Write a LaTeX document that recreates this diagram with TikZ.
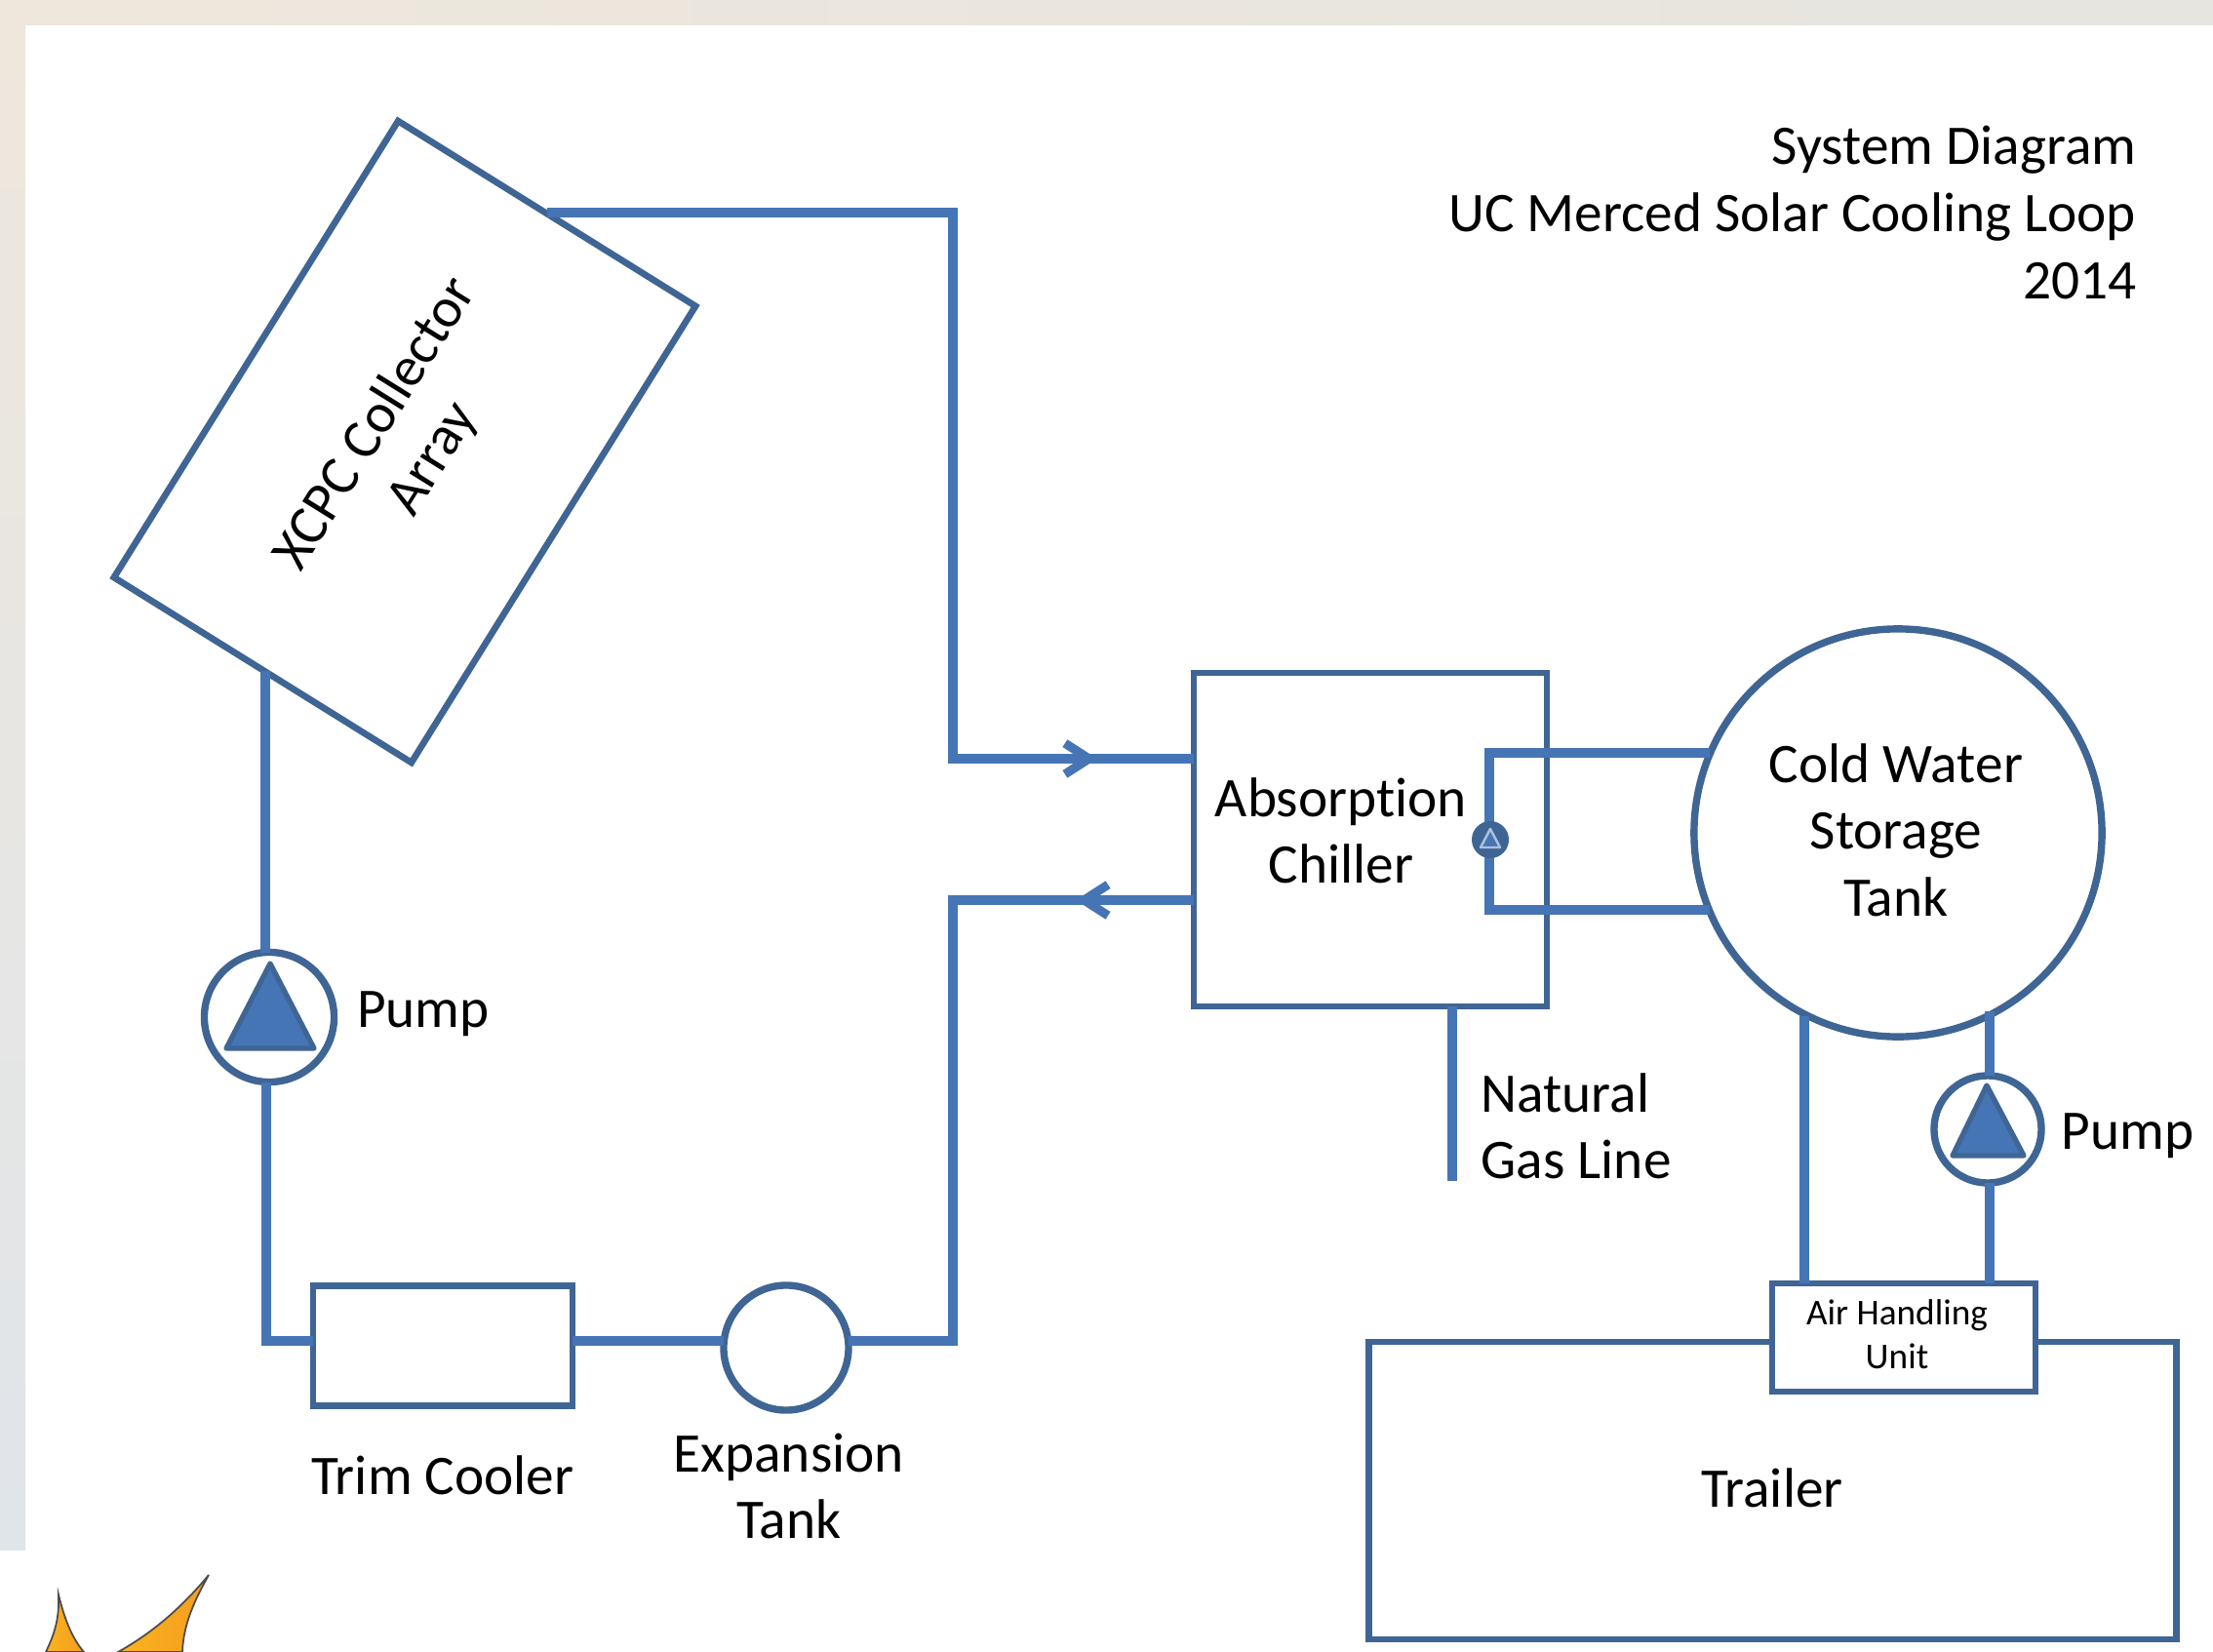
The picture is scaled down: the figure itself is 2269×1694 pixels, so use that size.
\documentclass[tikz,border=0pt]{standalone}
\usepackage{fontspec}
\setmainfont{Carlito}[Ligatures=NoCommon]
\usetikzlibrary{positioning,arrows.meta}
\definecolor{pipeblue}{HTML}{4675B5}
\definecolor{boxblue}{HTML}{3F6594}
\definecolor{stripbeige}{HTML}{EEE7DC}
\definecolor{stripgrey}{HTML}{E0E5EA}
\definecolor{stripright}{HTML}{E6E5E0}
\definecolor{staryellow}{HTML}{FAB41E}
\definecolor{starorange}{HTML}{F59C20}
\begin{document}
\begin{tikzpicture}[
  x=0.01cm, y=-0.01cm,
  vbox/.style={rectangle, draw=boxblue, line width=1.9pt, outer sep=0pt, inner sep=0pt, align=center, font=\fontsize{16.3}{19.5}\selectfont},
  vcirc/.style={circle, draw=boxblue, line width=2.1pt, outer sep=0pt, inner sep=0pt},
  vtext/.style={inner sep=0pt, font=\fontsize{16.3}{19.5}\selectfont},
  pipe/.style={draw=pipeblue, line width=2.6pt},
  flow/.style={pipe, -{Straight Barb[length=7pt, width=9pt]}},
  ptri/.style={draw=boxblue, fill=pipeblue, line width=1.5pt, line join=round},
  star/.style={draw=black!70, line width=0.5pt, left color=staryellow, right color=starorange}
]
  \useasboundingbox (0,0) rectangle (2269,1694);
  \clip (0,0) rectangle (2269,1694);
  \shade[left color=stripbeige, right color=stripright] (0,0) rectangle (2269,26);
  \shade[top color=stripbeige, bottom color=stripgrey] (0,26) rectangle (26,1589);
  \filldraw[star] (47,1694) .. controls (56,1675) and (61,1660) .. (60,1635)
    .. controls (66,1660) and (74,1680) .. (86,1694) -- cycle;
  \filldraw[star] (121,1694) .. controls (155,1675) and (185,1650) .. (214,1615)
    .. controls (200,1640) and (188,1665) .. (187,1694) -- cycle;

  % collector and chiller side
  \node[vbox, rotate=58.1, minimum width=5.51cm, minimum height=3.59cm] (collector) at (415,453) {XCPC Collector\\Array};
  \node[vbox, minimum width=3.62cm, minimum height=3.42cm] (chiller) at (1405,861) {};
  \node[vtext, align=center] (chillertext) at (1375,852) {Absorption\\Chiller};
  \node[vcirc, minimum size=4.18cm] (tank) at (1946,854) {};
  \node[vtext, align=center] (tanktext) at (1944,851) {Cold Water\\Storage\\Tank};

  % left loop
  \node[vcirc, minimum size=1.33cm] (pump1) at (276,1043) {};
  \draw[ptri] (277,988) -- (322,1075) -- (232,1075) -- cycle;
  \node[vbox, minimum width=2.66cm, minimum height=1.23cm] (trim) at (454,1380) {};
  \node[vcirc, minimum size=1.28cm] (expansion) at (806,1382) {};
  \coordinate (hotout) at (561,218);
  \coordinate (hotbend) at (977,218);
  \coordinate (hotin) at (977,778);
  \coordinate (hotarrow) at (1125,778);
  \coordinate (chillerin) at (1224,778);
  \coordinate (chillerout) at (1224,923);
  \coordinate (backarrow) at (1103,923);
  \coordinate (backbend) at (977,923);
  \coordinate (backlow) at (977,1375);
  \coordinate (expright) at (870,1375);
  \coordinate (expleft) at (742,1375);
  \coordinate (trimright) at (587,1375);
  \coordinate (trimleft) at (321,1375);
  \coordinate (lowbend) at (273,1375);
  \coordinate (collin) at (272,688);
  \draw[pipe] (hotout) -- (hotbend) -- (hotin) -- (chillerin);
  \draw[flow] (hotin) -- (hotarrow);
  \draw[pipe] (chillerout) -- (backbend) -- (backlow) -- (expright);
  \draw[flow] (chillerout) -- (backarrow);
  \draw[pipe] (expleft) -- (trimright);
  \draw[pipe] (trimleft) -- (lowbend) -- (273,1110);
  \draw[pipe] (272,977) -- (collin);

  % loop inside the chiller
  \coordinate (looptr) at (1753,772);
  \coordinate (looptl) at (1527,772);
  \coordinate (loopbl) at (1527,933);
  \coordinate (loopbr) at (1753,933);
  \draw[pipe] (looptr) -- (looptl) -- (loopbl) -- (loopbr);
  \node[circle, draw=boxblue, fill=boxblue, line width=1.7pt, minimum size=0.32cm, inner sep=0pt, outer sep=0pt] (pump3) at (1528,861) {};
  \draw[draw=white!55!pipeblue, fill=pipeblue, line width=0.7pt, line join=round] (1528,850) -- (1538,869) -- (1518,869) -- cycle;

  % right side
  \node[vbox, minimum width=8.27cm, minimum height=3.05cm] (trailer) at (1817.5,1528.5) {};
  \node[vtext] (trailertext) at (1817,1525.5) {Trailer};
  \node[vbox, fill=white, minimum width=2.70cm, minimum height=1.11cm] (ahu) at (1952,1371.5) {};
  \node[inner sep=0pt, align=center, font=\fontsize{10.6}{12.8}\selectfont] (ahutext) at (1945,1368) {Air Handling\\Unit};
  \node[vcirc, minimum size=1.10cm] (pump2) at (2038,1158) {};
  \draw[ptri] (2037,1113) -- (2075,1185) -- (2002,1185) -- cycle;
  \coordinate (tanklow) at (1850,1042);
  \coordinate (ahuleft) at (1850,1316);
  \coordinate (tankpump) at (2040,1037);
  \coordinate (ahuright) at (2040,1316);
  \draw[pipe] (tanklow) -- (ahuleft);
  \draw[pipe] (tankpump) -- (2040,1103);
  \draw[pipe] (2040,1213) -- (ahuright);
  \coordinate (gastop) at (1489,1032);
  \coordinate (gasend) at (1489,1211);
  \draw[pipe] (gastop) -- (gasend);

  % labels
  \node[vtext, right=0.23cm of pump1, yshift=0.9pt] (pump1text) {Pump};
  \node[vtext, right=0.2cm of pump2, yshift=-2pt] (pump2text) {Pump};
  \node[vtext, align=left, anchor=west] (gastext) at (1518,1155) {Natural\\Gas Line};
  \node[vtext, below=0.5cm of trim] (trimtext) {Trim Cooler};
  \node[vtext, align=center, below=0.23cm of expansion, xshift=0.8pt] (exptext) {Expansion\\Tank};
  \node[vtext, align=right, anchor=east] (title) at (2191,218) {System Diagram\\UC Merced Solar Cooling Loop\\2014};
\end{tikzpicture}
\end{document}
